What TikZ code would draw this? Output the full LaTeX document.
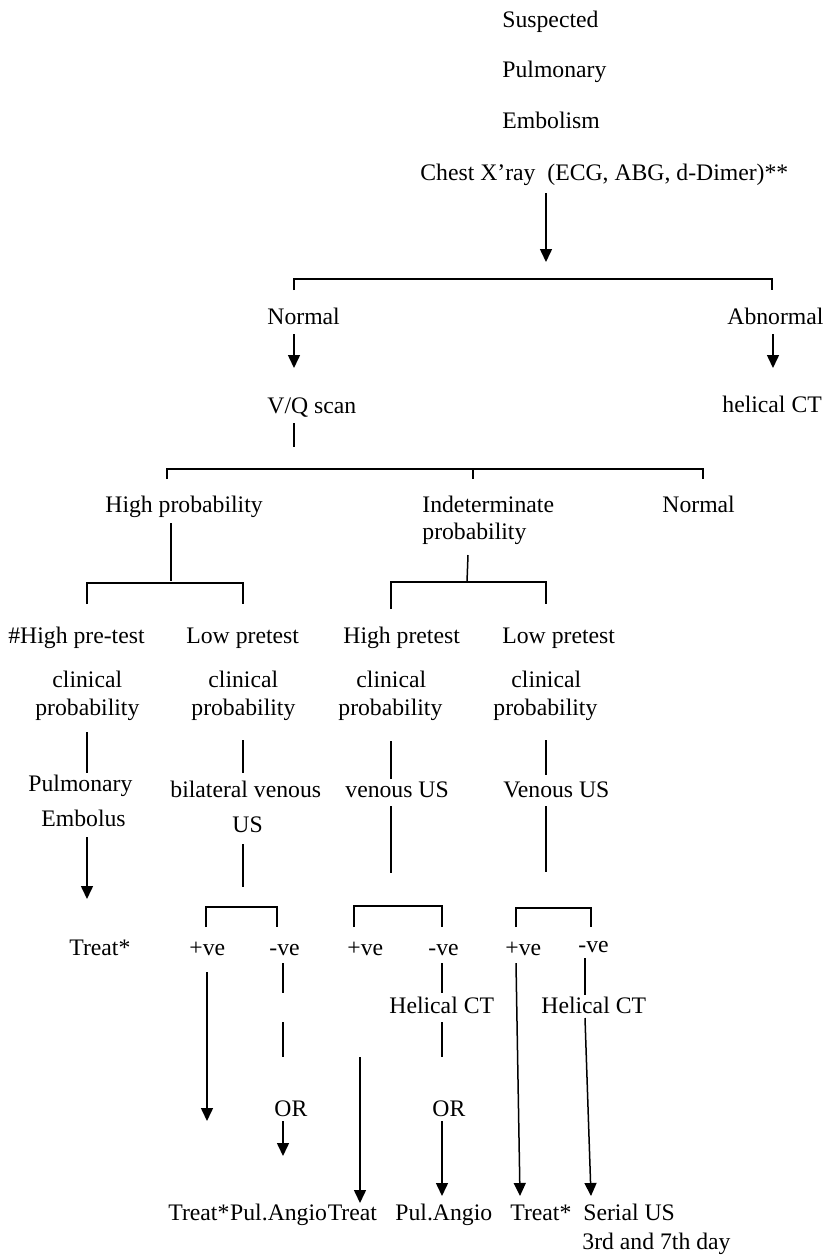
\documentclass[tikz,border=0pt]{standalone}
\usepackage{fontspec}
\setmainfont{Liberation Serif}
\usetikzlibrary{arrows.meta}
\tikzset{
  txt/.style={anchor=base west, inner sep=0pt, font=\fontsize{11.85pt}{14pt}\selectfont},
  ln/.style={line width=0.75pt, line cap=butt},
  arr/.style={ln, -{Triangle[width=6pt,length=6.5pt]}}
}
\begin{document}
\begin{tikzpicture}[x=0.5pt,y=-0.5pt]
\useasboundingbox (0,0) rectangle (823,1255);

% ---- title and first test ----
\node[txt] (s1) at (502,27) {Suspected};
\node[txt] (s2) at (502,77) {Pulmonary};
\node[txt] (s3) at (502,128) {Embolism};
\node[txt] (chest) at (420,180) {Chest X’ray\ \ (ECG, ABG, d-Dimer)**};

\coordinate (c0) at (546,193);
\coordinate (c1) at (546,262);
\draw[arr] (c0) -- (c1);

% top split
\coordinate (b1l) at (294,290); \coordinate (b1lt) at (294,279);
\coordinate (b1r) at (772,290); \coordinate (b1rt) at (772,279);
\draw[ln] (b1l) -- (b1lt) -- (b1rt) -- (b1r);

\node[txt] (nrm) at (267,324) {Normal};
\node[txt] (abn) at (727,324) {Abnormal};
\coordinate (nA) at (294,334); \coordinate (nB) at (294,368);
\coordinate (aA) at (773,334); \coordinate (aB) at (773,368);
\draw[arr] (nA) -- (nB);
\draw[arr] (aA) -- (aB);
\node[txt] (vq) at (267,413) {V/Q scan};
\node[txt] (hct) at (722,412) {helical CT};

\coordinate (vA) at (294,423); \coordinate (vB) at (294,447);
\draw[ln] (vA) -- (vB);

% V/Q outcomes
\coordinate (b2l) at (167,479); \coordinate (b2lt) at (167,469);
\coordinate (b2r) at (703,479); \coordinate (b2rt) at (703,469);
\coordinate (b2m) at (473,479); \coordinate (b2mt) at (473,469);
\draw[ln] (b2l) -- (b2lt) -- (b2rt) -- (b2r);
\draw[ln] (b2mt) -- (b2m);

\node[txt] (hp) at (105,512) {High probability};
\node[txt] (ind1) at (422,512) {Indeterminate};
\node[txt] (ind2) at (422,539) {probability};
\node[txt] (nrm2) at (662,512) {Normal};

\coordinate (hA) at (171,523); \coordinate (hB) at (171,581);
\draw[ln] (hA) -- (hB);
\coordinate (iA) at (468,555); \coordinate (iB) at (467,582);
\draw[ln] (iA) -- (iB);

% pre-test probability splits
\coordinate (b3l) at (87,604); \coordinate (b3lt) at (87,583);
\coordinate (b3r) at (243,604); \coordinate (b3rt) at (243,583);
\draw[ln] (b3l) -- (b3lt) -- (b3rt) -- (b3r);
\coordinate (b4l) at (391,609); \coordinate (b4lt) at (391,582);
\coordinate (b4r) at (546,604); \coordinate (b4rt) at (546,582);
\draw[ln] (b4l) -- (b4lt) -- (b4rt) -- (b4r);

\node[txt] (p1) at (8,643) {\#High pre-test};
\node[txt] (p2) at (186,643) {Low pretest};
\node[txt] (p3) at (343,643) {High pretest};
\node[txt] (p4) at (502,643) {Low pretest};
\node[txt] (c1a) at (52,687) {clinical};
\node[txt] (c2a) at (208,687) {clinical};
\node[txt] (c3a) at (356,687) {clinical};
\node[txt] (c4a) at (511,687) {clinical};
\node[txt] (c1b) at (35,715) {probability};
\node[txt] (c2b) at (191,715) {probability};
\node[txt] (c3b) at (338,715) {probability};
\node[txt] (c4b) at (493,715) {probability};

\coordinate (l1A) at (87,732);  \coordinate (l1B) at (87,773);
\coordinate (l2A) at (243,740); \coordinate (l2B) at (243,773);
\coordinate (l3A) at (391,741); \coordinate (l3B) at (391,779);
\coordinate (l4A) at (546,740); \coordinate (l4B) at (546,775);
\draw[ln] (l1A) -- (l1B);
\draw[ln] (l2A) -- (l2B);
\draw[ln] (l3A) -- (l3B);
\draw[ln] (l4A) -- (l4B);

\node[txt] (pe1) at (28,791) {Pulmonary};
\node[txt] (pe2) at (41,826) {Embolus};
\node[txt] (bv1) at (170,797) {bilateral venous};
\node[txt] (bv2) at (232,832) {US};
\node[txt] (vu1) at (345,797) {venous US};
\node[txt] (vu2) at (503,797) {Venous US};

\coordinate (eA) at (87,837); \coordinate (eB) at (87,899);
\draw[arr] (eA) -- (eB);
\coordinate (u1A) at (243,844); \coordinate (u1B) at (243,887);
\coordinate (u2A) at (391,806); \coordinate (u2B) at (391,873);
\coordinate (u3A) at (546,806); \coordinate (u3B) at (546,872);
\draw[ln] (u1A) -- (u1B);
\draw[ln] (u2A) -- (u2B);
\draw[ln] (u3A) -- (u3B);

% ultrasound result splits
\coordinate (r1l) at (206,927); \coordinate (r1lt) at (206,907);
\coordinate (r1r) at (277,927); \coordinate (r1rt) at (277,907);
\draw[ln] (r1l) -- (r1lt) -- (r1rt) -- (r1r);
\coordinate (r2l) at (354,927); \coordinate (r2lt) at (354,906);
\coordinate (r2r) at (442,927); \coordinate (r2rt) at (442,906);
\draw[ln] (r2l) -- (r2lt) -- (r2rt) -- (r2r);
\coordinate (r3l) at (516,927); \coordinate (r3lt) at (516,908);
\coordinate (r3r) at (591,927); \coordinate (r3rt) at (591,908);
\draw[ln] (r3l) -- (r3lt) -- (r3rt) -- (r3r);

\node[txt] (tr0) at (69,955) {Treat*};
\node[txt] (pv1) at (189,955) {+ve};
\node[txt] (nv1) at (269,955) {-ve};
\node[txt] (pv2) at (347,955) {+ve};
\node[txt] (nv2) at (428,955) {-ve};
\node[txt] (pv3) at (505,955) {+ve};
\node[txt] (nv3) at (578,952) {-ve};

\node[txt] (hc2) at (389,1013) {Helical CT};
\node[txt] (hc3) at (541,1013) {Helical CT};
\node[txt] (or1) at (274,1116) {OR};
\node[txt] (or2) at (432,1116) {OR};

% first column of results
\coordinate (a1A) at (207,972); \coordinate (a1B) at (207,1121);
\draw[arr] (a1A) -- (a1B);
\coordinate (n1A) at (283,963);  \coordinate (n1B) at (283,993);
\coordinate (n1C) at (283,1022); \coordinate (n1D) at (283,1057);
\coordinate (n1E) at (283,1121); \coordinate (n1F) at (283,1156);
\draw[ln] (n1A) -- (n1B);
\draw[ln] (n1C) -- (n1D);
\draw[arr] (n1E) -- (n1F);

% second column of results
\coordinate (a2A) at (360,1057); \coordinate (a2B) at (360,1203);
\draw[arr] (a2A) -- (a2B);
\coordinate (n2A) at (442,963);  \coordinate (n2B) at (442,993);
\coordinate (n2C) at (442,1022); \coordinate (n2D) at (442,1057);
\coordinate (n2E) at (442,1121); \coordinate (n2F) at (442,1196);
\draw[ln] (n2A) -- (n2B);
\draw[ln] (n2C) -- (n2D);
\draw[arr] (n2E) -- (n2F);

% third column of results
\coordinate (a3A) at (516,963); \coordinate (a3B) at (520,1196);
\draw[arr] (a3A) -- (a3B);
\coordinate (n3A) at (585,958);  \coordinate (n3B) at (585,995);
\coordinate (n3C) at (585,1018); \coordinate (n3D) at (591,1196);
\draw[ln] (n3A) -- (n3B);
\draw[arr] (n3C) -- (n3D);

% final actions
\node[txt] (f1) at (168,1220) {Treat*};
\node[txt] (f2) at (f1.base east) {Pul.Angio};
\node[txt] (f3) at (f2.base east) {Treat};
\node[txt] (f4) at (395,1220) {Pul.Angio};
\node[txt] (f5) at (510,1220) {Treat*};
\node[txt] (f6) at (583,1220) {Serial US};
\node[txt] (f7) at (582,1249) {3rd and 7th day};
\end{tikzpicture}
\end{document}
